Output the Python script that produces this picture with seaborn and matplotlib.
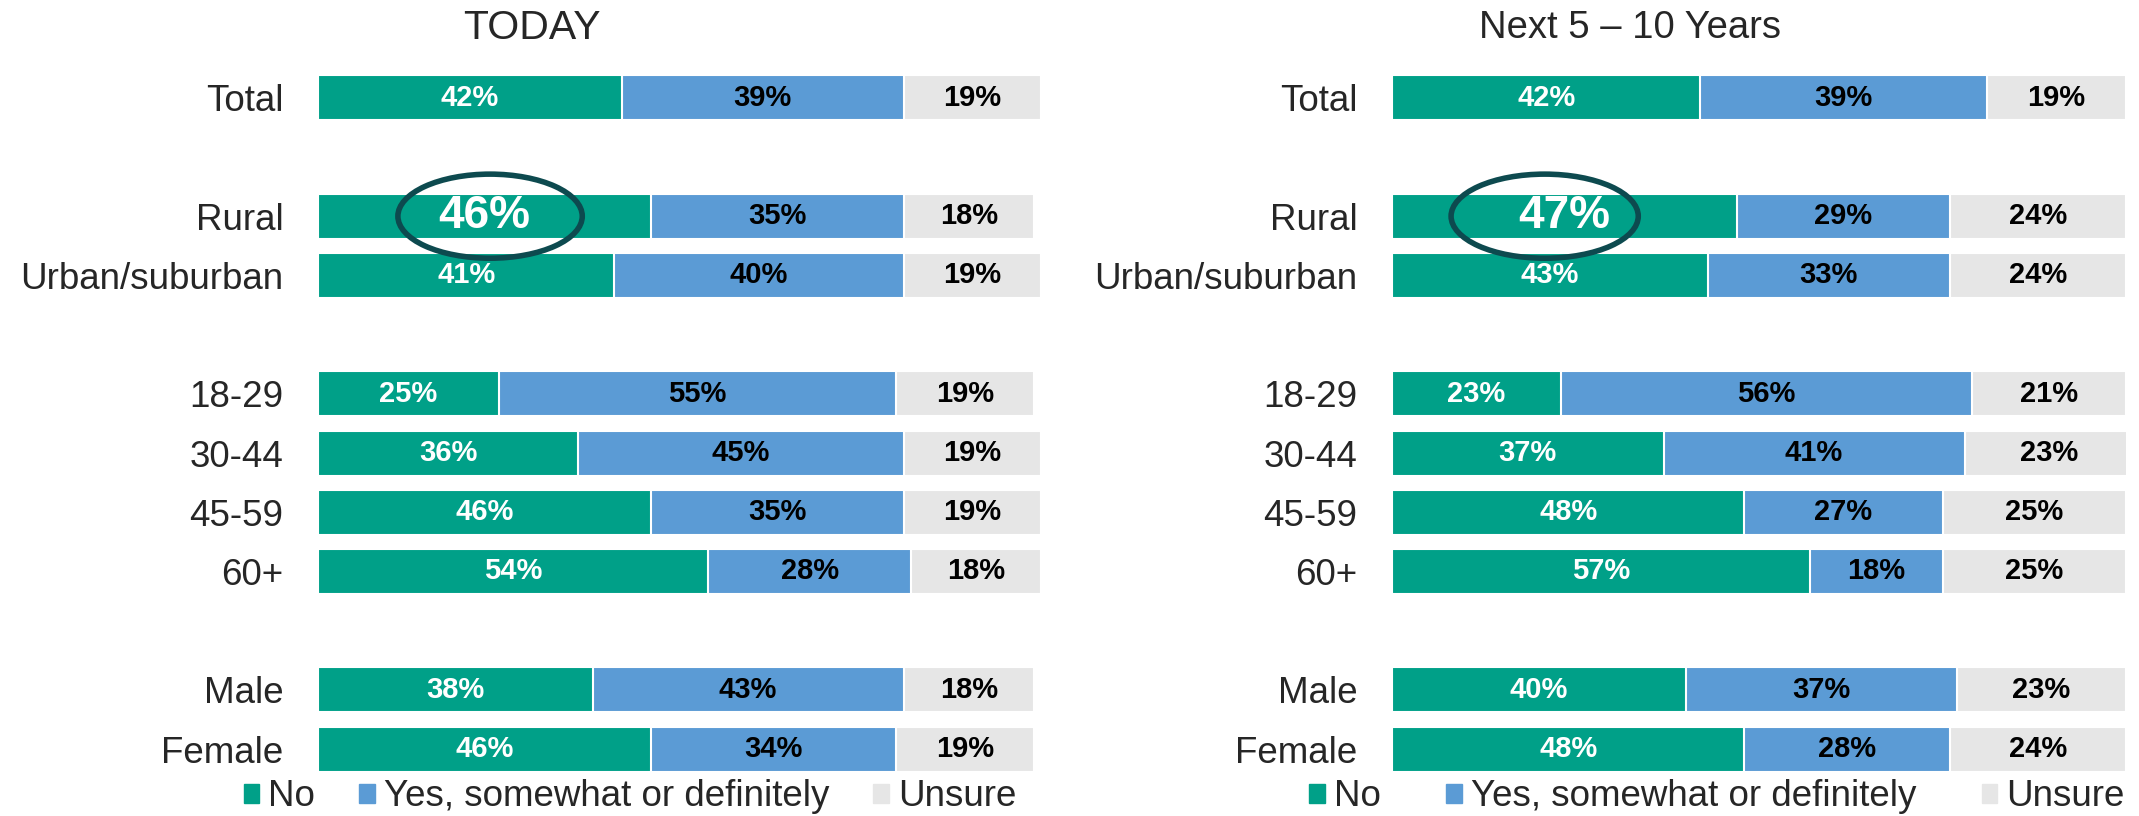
import seaborn as sns
import matplotlib.pyplot as plt
import pandas as pd
from matplotlib.patches import Ellipse, Patch

# survey groups, top to bottom
groups = ["Total", "Rural", "Urban/suburban", "18-29", "30-44", "45-59", "60+", "Male", "Female"]
# blank strings leave the gaps between the blocks of bars
row_order = ["Total", " ", "Rural", "Urban/suburban", "  ",
             "18-29", "30-44", "45-59", "60+", "   ", "Male", "Female"]

today_no = [42, 46, 41, 25, 36, 46, 54, 38, 46]
today_yes = [39, 35, 40, 55, 45, 35, 28, 43, 34]
today_unsure = [19, 18, 19, 19, 19, 19, 18, 18, 19]

future_no = [42, 47, 43, 23, 37, 48, 57, 40, 48]
future_yes = [39, 29, 33, 56, 41, 27, 18, 37, 28]
future_unsure = [19, 24, 24, 21, 23, 25, 25, 23, 24]

titles = ["TODAY", "Next 5 – 10 Years"]
legend_labels = ["No", "Yes, somewhat or definitely", "Unsure"]
highlight = "Rural"

TEAL = "#00A088"
BLUE = "#5B9BD5"
GREY = "#E6E6E6"
RING = "#0D4A4F"

sns.set_style("white")
plt.rcParams["font.family"] = ["Liberation Sans", "DejaVu Sans"]

W, H = 2139, 816
fig = plt.figure(figsize=(W / 100, H / 100), dpi=100)


def draw_panel(ax, no, yes, unsure, ring_shift):
    df = pd.DataFrame({"group": groups, "no": no, "yes": yes, "unsure": unsure})
    df["c_yes"] = df["no"] + df["yes"]
    df["c_all"] = df["c_yes"] + df["unsure"]

    # stacked bars: longest first, shorter ones drawn on top
    for col, color in [("c_all", GREY), ("c_yes", BLUE), ("no", TEAL)]:
        sns.barplot(data=df, x=col, y="group", order=row_order, orient="h",
                    color=color, saturation=1, width=0.76, errorbar=None,
                    edgecolor="white", linewidth=1.5, ax=ax)

    for _, r in df.iterrows():
        y = row_order.index(r["group"])
        big = r["group"] == highlight
        ax.text(r["no"] / 2, y, f"{r['no']}%", ha="center", va="center",
                color="white", fontweight="bold", fontsize=33 if big else 21)
        ax.text(r["no"] + r["yes"] / 2, y, f"{r['yes']}%", ha="center", va="center",
                color="black", fontweight="bold", fontsize=21)
        ax.text(r["c_yes"] + r["unsure"] / 2, y, f"{r['unsure']}%", ha="center",
                va="center", color="black", fontweight="bold", fontsize=21)
        if big:
            ax.add_patch(Ellipse((r["no"] / 2 + ring_shift, y), 25.5, 1.42, fill=False,
                                 edgecolor=RING, linewidth=4, zorder=5, clip_on=False))

    ax.set_xlim(0, 100)
    ax.set_ylim(len(row_order) - 0.5, -0.5)
    ax.set_xlabel("")
    ax.set_ylabel("")
    ax.set_xticks([])
    ax.set_yticks(range(len(row_order)))
    ax.set_yticklabels(row_order)
    ax.tick_params(axis="y", length=0, pad=25, labelsize=26.5)
    sns.despine(ax=ax, left=True, bottom=True)


bottom, height = 0.0457, 0.8708
ax1 = fig.add_axes([318 / W, bottom, 723 / W, height])
ax2 = fig.add_axes([1392 / W, bottom, 734 / W, height])

draw_panel(ax1, today_no, today_yes, today_unsure, 0.8)
draw_panel(ax2, future_no, future_yes, future_unsure, -2.7)

fig.text(532 / W, 1 - 28 / H, titles[0], ha="center", va="center", fontsize=29.5)
fig.text(1630 / W, 1 - 28 / H, titles[1], ha="center", va="center", fontsize=27.5)

handles = [Patch(color=c) for c in (TEAL, BLUE, GREY)]
for ax, cx, spacing in [(ax1, 630 / W, 1.2), (ax2, 1717 / W, 1.78)]:
    ax.legend(handles, legend_labels, loc="center", bbox_to_anchor=(cx, 1 - 797 / H),
              bbox_transform=fig.transFigure, ncol=3, frameon=False, fontsize=26.5,
              handlelength=0.42, handleheight=0.42, handletextpad=0.25,
              columnspacing=spacing, borderpad=0, borderaxespad=0)

fig.savefig("out.png", dpi=100)
